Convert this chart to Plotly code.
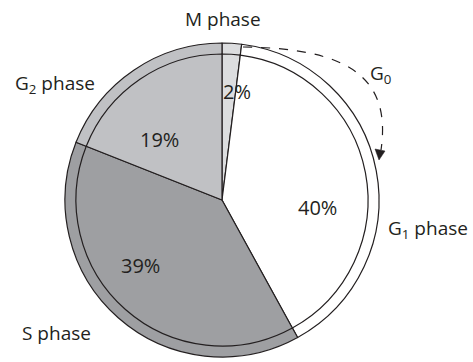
import plotly.graph_objects as go

W, H = 473, 362

# cell cycle phases, clockwise from 12 o'clock
phases = ['M phase', 'G1 phase', 'S phase', 'G2 phase']
shares = [2, 40, 39, 19]
pct_labels = ['2%', '40%', '39%', '19%']
colors = ['#dcdddf', '#ffffff', '#9e9fa2', '#c0c1c4']

INK = '#231f20'
FONT = "Open Sans, Noto Sans, sans-serif"

# pie geometry in pixels
CX, CY = 222, 200
R_OUT, R_IN = 157, 146


def dom(r):
    return dict(x=[(CX - r) / W, (CX + r) / W],
                y=[(H - CY - r) / H, (H - CY + r) / H])


def px(x, y):
    return x / W, 1 - y / H


fig = go.Figure()

# outer ring
fig.add_trace(go.Pie(
    labels=phases, values=shares, sort=False, direction='clockwise',
    marker=dict(colors=colors, line=dict(color=INK, width=1.2)),
    textinfo='none', hoverinfo='skip', domain=dom(R_OUT), showlegend=False
))
# inner pie
fig.add_trace(go.Pie(
    labels=phases, values=shares, sort=False, direction='clockwise',
    marker=dict(colors=colors, line=dict(color=INK, width=1.2)),
    textinfo='none', hoverinfo='skip', domain=dom(R_IN), showlegend=False
))

# percentage labels
pct_pos = [(237, 91), (317, 207), (140, 265), (159, 139)]
for txt, (x, y) in zip(pct_labels, pct_pos):
    ax_, ay_ = px(x, y)
    fig.add_annotation(text=txt, x=ax_, y=ay_, xref='paper', yref='paper',
                       xanchor='center', yanchor='middle', showarrow=False,
                       font=dict(size=20, color=INK, family=FONT))

# phase names
names = [
    ('M phase', 223, 19), ('G<sub>2</sub> phase', 55, 84),
    ('S phase', 56, 333), ('G<sub>1</sub> phase', 428, 229),
    ('G<sub>0</sub>', 380, 74),
]
for txt, x, y in names:
    ax_, ay_ = px(x, y)
    fig.add_annotation(text=txt, x=ax_, y=ay_, xref='paper', yref='paper',
                       xanchor='center', yanchor='middle', showarrow=False,
                       font=dict(size=19, color=INK, family=FONT))

# dashed G0 arrow
p0, p1, p2, p3 = px(243, 47), px(345, 48), px(392, 75), px(381, 150)
fig.add_shape(type='path', xref='paper', yref='paper',
              path=f"M {p0[0]},{p0[1]} C {p1[0]},{p1[1]} {p2[0]},{p2[1]} {p3[0]},{p3[1]}",
              line=dict(color=INK, width=1.2, dash='dash'))
t0, t1, t2 = px(379, 160), px(375, 149), px(385, 151)
fig.add_shape(type='path', xref='paper', yref='paper',
              path=f"M {t0[0]},{t0[1]} L {t1[0]},{t1[1]} L {t2[0]},{t2[1]} Z",
              fillcolor=INK, line=dict(color=INK, width=0.5))

fig.update_layout(
    width=W, height=H,
    margin=dict(l=0, r=0, t=0, b=0),
    paper_bgcolor='white', plot_bgcolor='white',
    font=dict(family=FONT, color=INK),
    showlegend=False,
)

fig.write_html("out.html", config={'displayModeBar': False},
               post_script="document.body.style.margin='0';")
